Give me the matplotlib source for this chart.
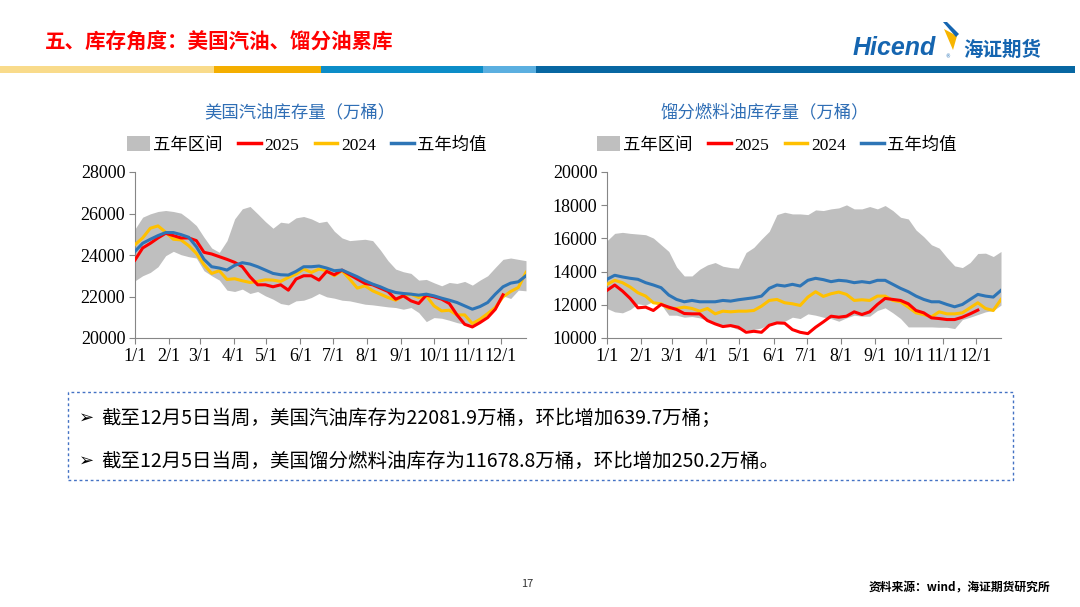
### Recreate the Hicend inventory slide: US gasoline and distillate stocks ###
import numpy as np
import matplotlib
matplotlib.use('Agg')
import matplotlib.pyplot as plt
from matplotlib.patches import Patch, Rectangle, Polygon
from matplotlib.lines import Line2D

plt.rcParams['font.family'] = ['Noto Sans CJK SC', 'DejaVu Sans']
plt.rcParams['axes.unicode_minus'] = False

### DATA (weekly, 52 weeks, units: 10k barrels) ###
month_labels = ['1/1', '2/1', '3/1', '4/1', '5/1', '6/1', '7/1', '8/1', '9/1', '10/1', '11/1', '12/1']
month_days = [0, 31, 59, 90, 120, 151, 181, 212, 243, 273, 304, 334]
week_days = np.arange(52) * 7

gas_hi = [25258, 25822, 25984, 26097, 26145, 26097, 26016, 25742, 25419, 24855,
          24338, 24129, 24693, 25742, 26226, 26339, 25984, 25613, 25290, 25581,
          25532, 25790, 25855, 25742, 25564, 25629, 25145, 24823, 24693, 24726,
          24758, 24693, 24242, 23726, 23322, 23193, 23113, 22790, 22822, 22661,
          22516, 22677, 22629, 22726, 22548, 22790, 23000, 23403, 23790, 23855,
          23790, 23726]
gas_lo = [22758, 23000, 23161, 23435, 23968, 24177, 24016, 23919, 23855, 23242,
          23000, 22790, 22306, 22242, 22355, 22145, 22242, 22032, 21871, 21661,
          21597, 21790, 21822, 21952, 22145, 21984, 21919, 21822, 21790, 21710,
          21629, 21597, 21548, 21500, 21468, 21387, 21468, 21226, 20790, 20984,
          20952, 20855, 20742, 20661, 20629, 20823, 21113, 21548, 22032, 21903,
          22306, 22274]
gas_2025 = [23758, 24338, 24564, 24822, 25048, 24935, 24822, 24822, 24693, 24129,
            24048, 23919, 23790, 23645, 23435, 22951, 22564, 22564, 22468, 22564,
            22306, 22838, 23000, 23000, 22790, 23209, 23048, 23274, 23048, 22838,
            22629, 22564, 22403, 22242, 21871, 22032, 21790, 21661, 22064, 21984,
            21871, 21661, 21113, 20661, 20532, 20742, 20984, 21387, 22082]
gas_2024 = [24500, 24822, 25290, 25403, 25097, 24758, 24726, 24451, 24081, 23532,
            23113, 23242, 22822, 22855, 22758, 22677, 22726, 22806, 22790, 22726,
            22919, 23081, 23322, 23161, 23322, 23242, 23000, 23242, 22838, 22403,
            22516, 22274, 22113, 21952, 21822, 22032, 22113, 21952, 22032, 21548,
            21306, 21339, 21113, 21113, 20694, 20903, 21177, 21468, 21984, 22242,
            22435, 23161]
gas_avg = [24177, 24564, 24758, 24935, 25081, 25081, 24984, 24855, 24403, 23790,
           23435, 23371, 23274, 23500, 23629, 23564, 23435, 23274, 23113, 23048,
           23032, 23209, 23435, 23435, 23468, 23371, 23242, 23274, 23113, 22951,
           22758, 22597, 22468, 22306, 22193, 22145, 22113, 22064, 22113, 22032,
           21919, 21822, 21710, 21548, 21387, 21516, 21710, 22113, 22468, 22645,
           22710, 23000]

dist_hi = [15859, 16303, 16364, 16303, 16263, 16222, 16020, 15616, 15212, 14283,
           13738, 13738, 14142, 14404, 14546, 14323, 14242, 14202, 15152, 15455,
           15960, 16424, 17434, 17576, 17475, 17475, 17434, 17717, 17677, 17778,
           17838, 18020, 17778, 17778, 17919, 17778, 17980, 17677, 17273, 17172,
           16505, 16101, 15616, 15414, 14849, 14344, 14242, 14546, 15091, 15111,
           14909, 15212]
dist_lo = [11778, 11576, 11516, 11718, 12061, 11980, 12222, 12020, 11374, 11374,
           11253, 11293, 11213, 11051, 10849, 10768, 10688, 10506, 10506, 10506,
           10607, 10849, 10970, 11010, 11253, 11172, 11455, 11374, 11253, 11172,
           11010, 11213, 11374, 11313, 11313, 11657, 11818, 11516, 11172, 10668,
           10668, 10668, 10668, 10647, 10647, 10567, 11111, 11253, 11414, 11576,
           11657, 11980]
dist_2025 = [12869, 13193, 12829, 12384, 11818, 11859, 11657, 12020, 11859, 11718,
             11475, 11455, 11455, 11051, 10849, 10688, 10748, 10647, 10344, 10404,
             10344, 10768, 10910, 10889, 10506, 10344, 10263, 10647, 10970, 11313,
             11253, 11313, 11576, 11414, 11576, 12020, 12384, 12323, 12263, 12061,
             11657, 11516, 11213, 11172, 11111, 11111, 11253, 11455, 11679]
dist_2024 = [13233, 13475, 13333, 13071, 12727, 12525, 12122, 12061, 11778, 11778,
             11859, 11778, 11616, 11778, 11455, 11616, 11576, 11616, 11616, 11657,
             11919, 12263, 12323, 12122, 12061, 11960, 12465, 12788, 12505, 12667,
             12768, 12626, 12263, 12303, 12263, 12525, 12525, 12263, 12182, 11859,
             11516, 11414, 11273, 11576, 11455, 11455, 11516, 11818, 12122, 11778,
             11657, 12323]
dist_avg = [13536, 13778, 13677, 13596, 13536, 13333, 13193, 13031, 12586, 12323,
            12182, 12263, 12182, 12182, 12182, 12263, 12222, 12303, 12364, 12424,
            12525, 12990, 13193, 13131, 13233, 13131, 13475, 13596, 13515, 13394,
            13475, 13434, 13333, 13394, 13333, 13475, 13475, 13233, 12990, 12788,
            12525, 12323, 12182, 12182, 12020, 11879, 12020, 12323, 12626, 12525,
            12465, 12869]

legend_labels = ['五年区间', '2025', '2024', '五年均值']
note_lines = ['截至12月5日当周，美国汽油库存为22081.9万桶，环比增加639.7万桶；',
              '截至12月5日当周，美国馏分燃料油库存为11678.8万桶，环比增加250.2万桶。']

### STYLE ###
W, H = 1080, 607
C_BAND = '#BFBFBF'
C_2025 = '#FF0000'
C_2024 = '#FFC000'
C_AVG = '#2E75B6'
C_TITLE = '#2F6EB5'
SERIF = ['Liberation Serif', 'Noto Sans CJK SC']


def fx(px):
    return px / W


def fy(py):
    return 1 - py / H


### ONE PANEL ###
def draw_panel(fig, x0, x1, lo, hi, s2025, s2024, avg, yticks, title, title_x, legend_x):
    ax = fig.add_axes([fx(x0), fy(338), fx(x1 - x0), fy(172) - fy(338)])
    ax.fill_between(week_days, lo, hi, color=C_BAND, lw=0, zorder=1)
    ax.plot(week_days[:len(s2025)], s2025, color=C_2025, lw=2.2, zorder=4)
    ax.plot(week_days, s2024, color=C_2024, lw=2.2, zorder=3)
    ax.plot(week_days, avg, color=C_AVG, lw=2.2, zorder=5)

    ax.set_xlim(0, week_days[-1])
    ax.set_ylim(yticks[0], yticks[-1])
    ax.set_xticks(month_days)
    ax.set_xticklabels(month_labels, family=SERIF, fontsize=13)
    ax.set_yticks(yticks)
    ax.set_yticklabels([str(v) for v in yticks], family=SERIF, fontsize=13)
    ax.tick_params(axis='both', direction='out', length=4, color='#868686', pad=3)
    for side in ['top', 'right']:
        ax.spines[side].set_visible(False)
    for side in ['left', 'bottom']:
        ax.spines[side].set_color('#868686')
        ax.spines[side].set_linewidth(0.8)

    fig.text(fx(title_x), fy(112), title, ha='center', va='center',
             fontsize=12.5, color=C_TITLE)

    handles = [Patch(facecolor=C_BAND, edgecolor='none'),
               Line2D([], [], color=C_2025, lw=2.5),
               Line2D([], [], color=C_2024, lw=2.5),
               Line2D([], [], color=C_AVG, lw=2.5)]
    fig.legend(handles, legend_labels, ncol=4, loc='center',
               bbox_to_anchor=(fx(legend_x), fy(145)), frameon=False,
               prop={'family': SERIF, 'size': 12.5}, handlelength=1.3,
               handleheight=0.9, handletextpad=0.2, columnspacing=0.9)
    return ax


fig = plt.figure(figsize=(W / 100, H / 100), dpi=100)
fig.patch.set_facecolor('white')

### HEADER ###
fig.text(fx(45), fy(42), '五、库存角度：美国汽油、馏分油累库', ha='left', va='center',
         fontsize=14.8, fontweight='bold', color='#FF0000')

bar_parts = [(0, 214, '#F9DB8B'), (214, 321, '#F4AE00'), (321, 483, '#0C8DC8'),
             (483, 536, '#5BAFE0'), (536, 1075, '#0767A2')]
for a, b, c in bar_parts:
    fig.patches.append(Rectangle((fx(a), fy(73)), fx(b - a), fy(66) - fy(73),
                                 transform=fig.transFigure, color=c, lw=0))

### LOGO ###
fig.text(fx(853), fy(48), 'Hicend', ha='left', va='center', fontsize=18,
         fontweight='bold', style='italic', color='#1565B0', family='Liberation Sans')
fig.text(fx(945), fy(57), '®', ha='left', va='center', fontsize=3.5, color='#1565B0',
         family='DejaVu Sans')
fig.text(fx(963), fy(50), '海证期货', ha='left', va='center', fontsize=14,
         fontweight='bold', color='#1565B0')
blue_tip = [(943, 22), (947, 22), (959, 34), (956, 37)]
yellow_tip = [(944, 29), (957, 36), (953, 50)]
for pts, c in [(yellow_tip, '#F7B500'), (blue_tip, '#1565B0')]:
    fig.patches.append(Polygon([(fx(x), fy(y)) for x, y in pts], closed=True,
                               transform=fig.transFigure, color=c, lw=0))

### PANELS ###
draw_panel(fig, 135, 526, gas_lo, gas_hi, gas_2025, gas_2024, gas_avg,
           [20000, 22000, 24000, 26000, 28000], '美国汽油库存量（万桶）', 300, 307)
draw_panel(fig, 607, 1001, dist_lo, dist_hi, dist_2025, dist_2024, dist_avg,
           [10000, 12000, 14000, 16000, 18000, 20000], '馏分燃料油库存量（万桶）', 765, 777)

### NOTE BOX ###
fig.patches.append(Rectangle((fx(68), fy(480)), fx(1013 - 68), fy(392) - fy(480),
                             transform=fig.transFigure, fill=False,
                             edgecolor='#4472C4', lw=1.0, ls=(0, (2, 2))))
for line, y in zip(note_lines, [418, 461]):
    fig.text(fx(79), fy(y), '➢', ha='left', va='center', fontsize=13,
             family=['DejaVu Sans'], color='black')
    fig.text(fx(101), fy(y), line, ha='left', va='center', fontsize=14, color='black')

### FOOTER ###
fig.text(fx(527), fy(584), '17', ha='center', va='center', fontsize=8, color='#333333')
fig.text(fx(1050), fy(588), '资料来源：wind，海证期货研究所', ha='right', va='center',
         fontsize=8.5, fontweight='bold', color='black')

fig.savefig('out.png', dpi=100)
